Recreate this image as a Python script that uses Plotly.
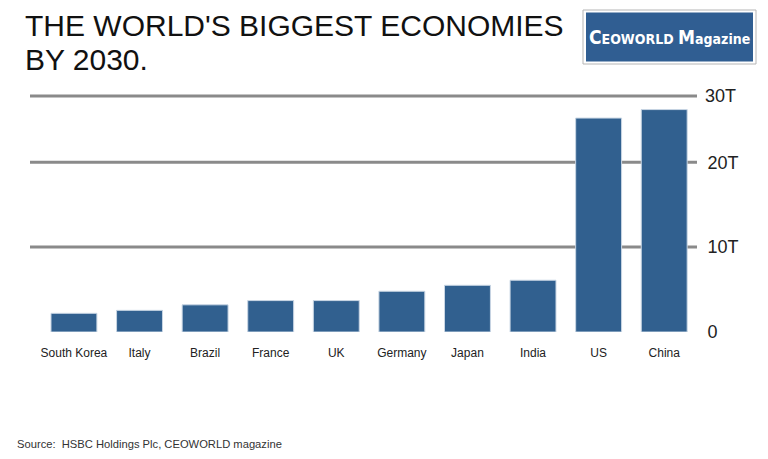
import plotly.graph_objects as go

countries = ["South Korea", "Italy", "Brazil", "France", "UK", "Germany", "Japan", "India", "US", "China"]
gdp_2030_trillion = [2.2, 2.55, 3.2, 3.7, 3.7, 4.8, 5.5, 6.1, 25.2, 26.2]
tick_values = [0, 10, 20]
tick_labels = ["0", "10T", "20T"]
top_label = "30T"
title_lines = ["THE WORLD'S BIGGEST ECONOMIES", "BY 2030."]
source_text = "Source:  HSBC Holdings Plc, CEOWORLD magazine"

# page body adds an 8px margin, so the figure is drawn 8px smaller/offset
OFF = 8
W, H = 768 - OFF, 459 - OFF
L, R, T, B = 30, 697, 96, 332  # plot area in screen pixels
YMAX = 27.8


def xp(px):
    return (px - L) / (R - L)


def yp(py):
    return (B - py) / (B - T)


FONT = "Liberation Sans, Arial, sans-serif"
GRID = "#8a8a8a"

fig = go.Figure(go.Bar(
    x=list(range(len(countries))),
    y=gdp_2030_trillion,
    width=0.7,
    marker=dict(color="#31608f", line=dict(color="#c9d6e4", width=1)),
    hoverinfo="y",
))

shapes = []
for v in tick_values[1:]:
    shapes.append(dict(type="line", xref="paper", yref="y", x0=0, x1=1, y0=v, y1=v,
                       line=dict(color=GRID, width=3), layer="below"))
shapes.append(dict(type="line", xref="paper", yref="paper", x0=0, x1=1, y0=1, y1=1,
                   line=dict(color=GRID, width=3), layer="below"))
# logo box
shapes.append(dict(type="rect", xref="paper", yref="paper", x0=xp(583), x1=xp(756), y0=yp(64), y1=yp(10),
                   line=dict(color="#b5b5b5", width=1), fillcolor="white", layer="above"))
shapes.append(dict(type="rect", xref="paper", yref="paper", x0=xp(586), x1=xp(753), y0=yp(61.5), y1=yp(12.5),
                   line=dict(width=0), fillcolor="#305e92", layer="above"))

annotations = [
    dict(text=title_lines[0], xref="paper", yref="paper", x=xp(23), y=yp(26), xanchor="left", yanchor="middle",
         showarrow=False, font=dict(family=FONT, size=30, color="#111")),
    dict(text=title_lines[1], xref="paper", yref="paper", x=xp(23), y=yp(60), xanchor="left", yanchor="middle",
         showarrow=False, font=dict(family=FONT, size=30, color="#111")),
    dict(text=top_label, xref="paper", yref="paper", x=1, y=1, xanchor="left", yanchor="middle", xshift=6,
         showarrow=False, font=dict(family=FONT, size=18, color="#222")),
    dict(text=source_text, xref="paper", yref="paper", x=xp(15), y=yp(444), xanchor="left", yanchor="middle",
         showarrow=False, font=dict(family=FONT, size=11.2, color="#333")),
    dict(text="<span style='font-size:19px'>C</span>EOWORLD <span style='font-size:19px'>M</span>agazine",
         xref="paper", yref="paper", x=xp(669.5), y=yp(37), xanchor="center", yanchor="middle",
         showarrow=False,
         font=dict(family="DejaVu Sans Condensed, DejaVu Sans, sans-serif",
                   size=14, color="white", weight="bold")),
]

fig.update_layout(
    width=W, height=H,
    margin=dict(l=L - OFF, r=W - (R - OFF), t=T - OFF, b=H - (B - OFF), pad=0),
    paper_bgcolor="white", plot_bgcolor="white",
    showlegend=False,
    xaxis=dict(range=[-0.67, 9.5], tickvals=list(range(len(countries))), ticktext=countries,
               showgrid=False, zeroline=False, showline=False, ticks="outside", ticklen=10,
               tickcolor="rgba(0,0,0,0)", tickfont=dict(family=FONT, size=12, color="#222"),
               fixedrange=True),
    yaxis=dict(range=[0, YMAX], side="right", tickvals=tick_values, ticktext=tick_labels,
               showgrid=False, zeroline=False, showline=False, ticks="outside", ticklen=6,
               tickcolor="rgba(0,0,0,0)", tickfont=dict(family=FONT, size=18, color="#222"),
               fixedrange=True),
    shapes=shapes,
    annotations=annotations,
)

fig.write_html("out.html")
